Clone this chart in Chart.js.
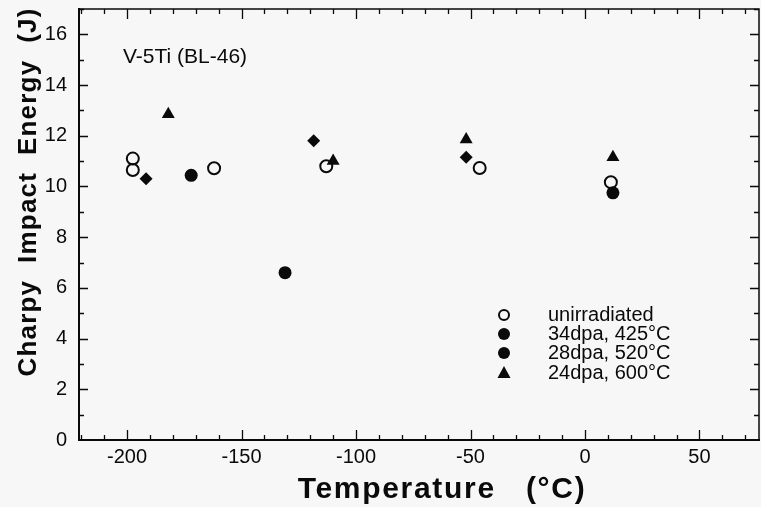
<!DOCTYPE html>
<html>
<head>
<meta charset="utf-8">
<script src="https://cdn.jsdelivr.net/npm/chart.js@4/dist/chart.umd.min.js"></script>
<style>
  body { margin: 0; background: #f7f7f7; }
  canvas { display: block; }
</style>
</head>
<body>
<canvas id="charpy" width="761" height="507"></canvas>
<script>
// Charpy impact energy vs test temperature, V-5Ti (BL-46)
var unirrTemp = [-197.5, -197.5, -162, -113, -46, 11.3];
var unirrEnergy = [11.1, 10.65, 10.72, 10.8, 10.73, 10.17];

var dpa34Temp = [-172, -131, 12.2];
var dpa34Energy = [10.44, 6.6, 9.75];

var dpa28Temp = [-191.7, -118.5, -51.9];
var dpa28Energy = [10.3, 11.8, 11.15];

var dpa24Temp = [-182, -110, -51.9, 12.2];
var dpa24Energy = [12.85, 11.0, 11.85, 11.15];

var legendLabels = ['unirradiated', '34dpa, 425°C', '28dpa, 520°C', '24dpa, 600°C'];

var FONT = '"Liberation Sans", Arial, sans-serif';
var INK = '#0a0a0a';

function points(xs, ys) {
    return xs.map(function(x, i) { return {x: x, y: ys[i]}; });
}

// inward tick marks on all four sides plus the top/right frame lines
var frameTicks = {
    id: 'frameTicks',
    afterDraw: function(chart) {
        var ctx = chart.ctx, a = chart.chartArea;
        var x = chart.scales.x, y = chart.scales.y;
        ctx.save();
        ctx.strokeStyle = INK;
        ctx.lineWidth = 1.5;
        ctx.beginPath();
        ctx.moveTo(a.left, a.top);
        ctx.lineTo(a.right, a.top);
        ctx.lineTo(a.right, a.bottom);
        ctx.stroke();
        ctx.lineWidth = 1.3;
        ctx.beginPath();
        for (var v = -220; v <= 70; v += 10) {
            if (v < x.min || v > x.max) continue;
            var px = Math.round(x.getPixelForValue(v)) + 0.5;
            var len = v % 50 === 0 ? 10 : 5;
            ctx.moveTo(px, a.bottom);
            ctx.lineTo(px, a.bottom - len);
            ctx.moveTo(px, a.top);
            ctx.lineTo(px, a.top + len);
        }
        for (var e = 1; e <= 17; e++) {
            var py = Math.round(y.getPixelForValue(e)) + 0.5;
            var ylen = e % 2 === 0 ? 9 : 5;
            ctx.moveTo(a.left, py);
            ctx.lineTo(a.left + ylen, py);
            ctx.moveTo(a.right, py);
            ctx.lineTo(a.right - ylen, py);
        }
        ctx.stroke();
        ctx.restore();
    }
};

// axis titles, the alloy note and the legend block
var labelsPlugin = {
    id: 'labels',
    afterDraw: function(chart) {
        var ctx = chart.ctx;
        ctx.save();
        ctx.fillStyle = INK;
        ctx.strokeStyle = INK;

        ctx.font = 'bold 30px ' + FONT;
        ctx.letterSpacing = '1.7px';
        ctx.textAlign = 'center';
        ctx.textBaseline = 'alphabetic';
        ctx.fillText('Temperature   (°C)', 442, 498);

        ctx.save();
        ctx.font = 'bold 26px ' + FONT;
        ctx.letterSpacing = '1.2px';
        ctx.translate(36, 192);
        ctx.rotate(-Math.PI / 2);
        ctx.fillText('Charpy  Impact  Energy  (J)', 0, 0);
        ctx.restore();

        ctx.letterSpacing = '0px';
        ctx.textAlign = 'left';
        ctx.textBaseline = 'middle';
        ctx.font = '21px ' + FONT;
        ctx.fillText('V-5Ti (BL-46)', 123, 57);

        ctx.font = '20px ' + FONT;
        var rows = [315, 334, 353, 373];
        legendLabels.forEach(function(t, i) {
            ctx.fillText(t, 548, rows[i]);
        });
        var sx = 504;
        ctx.lineWidth = 2;
        ctx.beginPath();
        ctx.arc(sx, rows[0], 5, 0, Math.PI * 2);
        ctx.stroke();
        ctx.beginPath();
        ctx.arc(sx, rows[1], 6, 0, Math.PI * 2);
        ctx.fill();
        ctx.beginPath();
        ctx.arc(sx, rows[2], 6, 0, Math.PI * 2);
        ctx.fill();
        ctx.beginPath();
        ctx.moveTo(sx, rows[3] - 7);
        ctx.lineTo(sx + 6.5, rows[3] + 5);
        ctx.lineTo(sx - 6.5, rows[3] + 5);
        ctx.closePath();
        ctx.fill();
        ctx.restore();
    }
};

var ctx = document.getElementById('charpy').getContext('2d');
var config = {
    type: 'scatter',
    data: {
        datasets: [{
            label: legendLabels[0],
            data: points(unirrTemp, unirrEnergy),
            pointStyle: 'circle',
            pointRadius: 6,
            borderWidth: 2,
            borderColor: INK,
            backgroundColor: 'rgba(0,0,0,0)'
        }, {
            label: legendLabels[1],
            data: points(dpa34Temp, dpa34Energy),
            pointStyle: 'circle',
            pointRadius: 6.5,
            borderWidth: 0,
            borderColor: INK,
            backgroundColor: INK
        }, {
            label: legendLabels[2],
            data: points(dpa28Temp, dpa28Energy),
            pointStyle: 'rectRot',
            pointRadius: 6.5,
            borderWidth: 0,
            borderColor: INK,
            backgroundColor: INK
        }, {
            label: legendLabels[3],
            data: points(dpa24Temp, dpa24Energy),
            pointStyle: 'triangle',
            pointRadius: 7.5,
            borderWidth: 0,
            borderColor: INK,
            backgroundColor: INK
        }]
    },
    options: {
        responsive: false,
        animation: false,
        devicePixelRatio: 1,
        layout: {
            autoPadding: false,
            padding: { top: 9, right: 2, left: 0, bottom: 0 }
        },
        plugins: {
            legend: { display: false },
            tooltip: { enabled: false }
        },
        scales: {
            x: {
                type: 'linear',
                min: -221,
                max: 76,
                grid: { display: false, drawTicks: false },
                border: { display: true, color: INK, width: 2 },
                ticks: {
                    stepSize: 50,
                    includeBounds: false,
                    maxRotation: 0,
                    padding: 5,
                    color: INK,
                    font: { family: FONT, size: 20 }
                },
                afterFit: function(s) {
                    s.height = 67;
                    s.paddingLeft = 0;
                    s.paddingRight = 0;
                }
            },
            y: {
                type: 'linear',
                min: 0,
                max: 17,
                grid: { display: false, drawTicks: false },
                border: { display: true, color: INK, width: 2 },
                ticks: {
                    stepSize: 2,
                    includeBounds: false,
                    padding: 12,
                    color: INK,
                    font: { family: FONT, size: 20 }
                },
                afterFit: function(s) {
                    s.width = 79;
                    s.paddingTop = 0;
                    s.paddingBottom = 0;
                }
            }
        }
    },
    plugins: [frameTicks, labelsPlugin]
};

var chart = new Chart(ctx, config);
</script>
</body>
</html>
